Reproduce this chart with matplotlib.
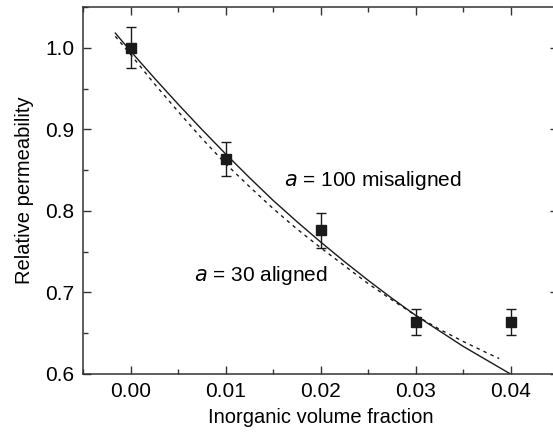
import matplotlib
matplotlib.use('Agg')
import matplotlib.pyplot as plt
from matplotlib.ticker import MultipleLocator

plt.rcParams['font.family'] = ['Liberation Sans', 'DejaVu Sans']

# measured points
frac = [0.00, 0.01, 0.02, 0.03, 0.04]
perm = [1.000, 0.864, 0.776, 0.664, 0.664]
perm_err = [0.025, 0.021, 0.021, 0.016, 0.016]

# model curve a = 100 misaligned (solid)
mis_x = [-0.0016, 0.0000, 0.0025, 0.0050, 0.0075, 0.0100, 0.0125, 0.0150, 0.0175,
         0.0200, 0.0225, 0.0250, 0.0275, 0.0300, 0.0325, 0.0350, 0.0375, 0.0400]
mis_y = [1.018, 0.996, 0.963, 0.931, 0.900, 0.870, 0.841, 0.813, 0.787,
         0.762, 0.738, 0.715, 0.693, 0.672, 0.653, 0.634, 0.617, 0.600]

# model curve a = 30 aligned (dashed)
ali_x = [-0.0016, 0.0000, 0.0025, 0.0050, 0.0075, 0.0100, 0.0125, 0.0150, 0.0175,
         0.0200, 0.0225, 0.0250, 0.0275, 0.0300, 0.0325, 0.0350, 0.0375, 0.0388]
ali_y = [1.014, 0.992, 0.956, 0.922, 0.889, 0.858, 0.830, 0.803, 0.778,
         0.755, 0.733, 0.711, 0.691, 0.672, 0.655, 0.640, 0.626, 0.619]

fig = plt.figure(figsize=(5.53, 4.33), dpi=100)
ax = fig.add_axes([83 / 553, 1 - 374 / 433, (558 - 83) / 553, (374 - 7) / 433])

ax.plot(mis_x, mis_y, color='#1a1a1a', lw=1.0, ls='-')
ax.plot(ali_x, ali_y, color='#1a1a1a', lw=1.0, ls=(0, (2.5, 3)))
ax.errorbar(frac, perm, yerr=perm_err, fmt='s', color='#1a1a1a', ms=7,
            ecolor='#1a1a1a', elinewidth=1.0, capsize=3.5, capthick=1.0)

ax.text(0.0162, 0.8375, r'$\it{a}$ = 100 misaligned', fontsize=15, va='center')
ax.text(0.0067, 0.721, r'$\it{a}$ = 30 aligned', fontsize=15, va='center')

ax.set_xlim(-0.005, 0.045)
ax.set_ylim(0.6, 1.05)
ax.set_xticks([0.00, 0.01, 0.02, 0.03, 0.04])
ax.set_xticklabels(['0.00', '0.01', '0.02', '0.03', '0.04'])
ax.set_yticks([0.6, 0.7, 0.8, 0.9, 1.0])
ax.set_yticklabels(['0.6', '0.7', '0.8', '0.9', '1.0'])
ax.xaxis.set_minor_locator(MultipleLocator(0.005))
ax.yaxis.set_minor_locator(MultipleLocator(0.05))
ax.tick_params(which='both', direction='in', top=True, right=True,
               labelsize=15, width=1.0, color='#333333', pad=6)
ax.tick_params(which='major', length=6)
ax.tick_params(which='minor', length=3.5)
for s in ax.spines.values():
    s.set_linewidth(1.1)
    s.set_color('#333333')

ax.set_xlabel('Inorganic volume fraction', fontsize=14.5, labelpad=5)
ax.set_ylabel('Relative permeability', fontsize=14.5, labelpad=8)

fig.savefig('out.png', dpi=100)
